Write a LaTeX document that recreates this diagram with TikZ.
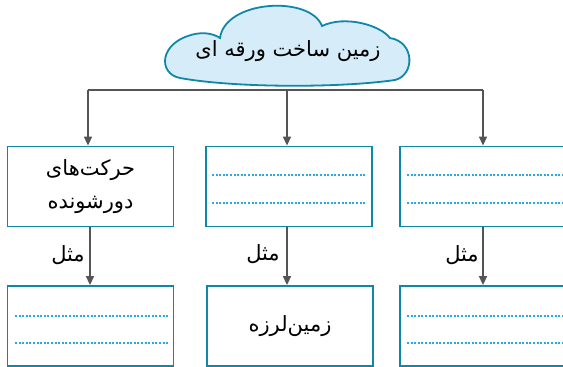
\documentclass[tikz,border=0pt]{standalone}
\usepackage{fontspec}
\newfontfamily\fa[Script=Arabic]{DejaVu Sans}
\TeXXeTstate=1
\usetikzlibrary{arrows.meta}
\definecolor{boxc}{RGB}{14,135,168}
\definecolor{cloudf}{RGB}{214,236,248}
\definecolor{dotc}{RGB}{41,171,226}
\definecolor{arrc}{RGB}{85,85,85}
\tikzset{
 box/.style={draw=boxc, line width=1.8pt, fill=white, minimum width=166pt, minimum height=80pt, inner sep=0pt, align=center, font=\fa\fontsize{21}{33}\selectfont},
 conn/.style={draw=arrc, line width=1.5pt},
 arr/.style={conn, -{Triangle[width=8pt,length=9pt]}},
 dots/.style={draw=dotc, line width=1.6pt, dash pattern=on 2pt off 1.6pt},
 lbl/.style={font=\fa\fontsize{21}{24}\selectfont, inner sep=0pt},
}
\begin{document}
\begin{tikzpicture}[x=1pt,y=-1pt]
\useasboundingbox (0,0) rectangle (563,367);
\clip (0,0) rectangle (563,367);
% cloud
\draw[boxc, line width=1.8pt, fill=cloudf]
 (180,78) .. controls (158,74) and (158,42) .. (195,34)
 .. controls (205,32) and (214,34) .. (220,38)
 .. controls (225,0) and (310,-5) .. (322,26)
 .. controls (345,15) and (380,25) .. (390,38)
 .. controls (415,42) and (415,75) .. (395,80)
 .. controls (340,88) and (235,88) .. cycle;
\node[lbl] (root) at (288,51) {\beginR زمین ساخت ورقه ای\endR};
% boxes
\node[box] (tl) at (90.5,186.5) {\beginR حرکت‌های\endR\\\beginR دورشونده\endR};
\node[box] (tm) at (289,186.5) {};
\node[box, minimum width=170pt] (tr) at (485,186.5) {};
\node[box] (bl) at (90.5,326) {};
\node[box] (bm) at (290,326) {\beginR زمین‌لرزه\endR};
\node[box, minimum width=170pt] (br) at (485,326) {};
% dotted lines
\foreach \y in {175,203} {
 \draw[dots] (212,\y) -- (366,\y);
 \draw[dots] (407,\y) -- (563,\y);
}
\foreach \y in {316,343} {
 \draw[dots] (15,\y) -- (168,\y);
 \draw[dots] (407,\y) -- (563,\y);
}
% connectors
\coordinate (hl) at (88,90);
\coordinate (hm) at (287,90);
\coordinate (hr) at (483,90);
\draw[conn] (hl) -- (hr);
\draw[arr] (hl) -- (hl |- tl.north);
\draw[arr] (hm) -- (hm |- tm.north);
\draw[arr] (hr) -- (hr |- tr.north);
\draw[arr] ([xshift=-0.5pt]tl.south) -- ([xshift=-0.5pt]tl.south |- bl.north);
\draw[arr] ([xshift=-2pt]tm.south) -- ([xshift=-2pt]tm.south |- bm.north);
\draw[arr] ([xshift=-2pt]tr.south) -- ([xshift=-2pt]tr.south |- br.north);
\node[lbl] (m1) at (68,255) {\beginR مثل\endR};
\node[lbl] (m2) at (263,254) {\beginR مثل\endR};
\node[lbl] (m3) at (462,255) {\beginR مثل\endR};
\end{tikzpicture}
\end{document}
